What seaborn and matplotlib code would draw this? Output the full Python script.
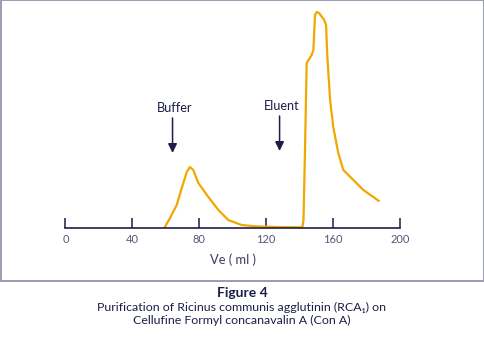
import matplotlib
matplotlib.use("Agg")
import matplotlib.pyplot as plt
from matplotlib.patches import Rectangle
import seaborn as sns
import pandas as pd

# Elution profile: elution volume (ml) vs. relative absorbance
ve_ml = [59.1, 62.5, 66.5, 69.5, 72.5, 74.4, 76.4, 79.4, 85.4, 91.4, 97.3,
         105.3, 113.3, 119.3, 128.3, 141.6, 142.3, 143.2, 144.2, 147.2, 148.2,
         149.2, 150.2, 151.6, 154.7, 155.8, 156.5, 158.2, 160.1, 163.1, 166.1,
         172.1, 178.1, 187.4]
absorbance = [0.00, 0.10, 0.23, 0.40, 0.56, 0.61, 0.58, 0.45, 0.31, 0.18, 0.08,
              0.03, 0.017, 0.013, 0.009, 0.007, 0.08, 0.78, 1.65, 1.73, 1.78,
              2.13, 2.16, 2.15, 2.08, 2.03, 1.73, 1.28, 1.01, 0.75, 0.58,
              0.48, 0.38, 0.27]

x_ticks = [0, 40, 80, 120, 160, 200]
x_label = "Ve ( ml )"

# Buffer / eluent application points
arrow_labels = ["Buffer", "Eluent"]
arrow_ve = [64, 128]

caption_title = "Figure 4"
caption_lines = ["Purification of Ricinus communis agglutinin (RCA\u2081) on",
                 "Cellufine Formyl concanavalin A (Con A)"]

NAVY = "#1c1e48"
ORANGE = "#f0a800"
GREY = "#9b9bb3"

sns.set_theme(style="white")
plt.rcParams["font.family"] = ["Lato", "DejaVu Sans"]

W, H = 485, 339
fig = plt.figure(figsize=(W / 100, H / 100), dpi=100)
fig.patch.set_facecolor("white")

x0, x1 = 65.5, 400.0
base_y, top_y = 228.0, 8.0
ax = fig.add_axes([x0 / W, (H - base_y) / H, (x1 - x0) / W, (base_y - top_y) / H])
ax.set_facecolor("none")

df = pd.DataFrame({"ve": ve_ml, "abs": absorbance})
sns.lineplot(data=df, x="ve", y="abs", ax=ax, color=ORANGE, linewidth=1.6,
             sort=False, estimator=None)

ax.set_xlim(0, 200)
ax.set_ylim(0, (base_y - top_y) / 100)
for s in ["top", "left", "right"]:
    ax.spines[s].set_visible(False)
ax.spines["bottom"].set_color(NAVY)
ax.spines["bottom"].set_linewidth(1.2)
ax.set_yticks([])
ax.set_xticks(x_ticks)
ax.set_xticklabels([str(t) for t in x_ticks])
ax.tick_params(axis="x", direction="in", length=7.2, width=1.1, color=NAVY,
               bottom=True, pad=4.5, labelsize=8, labelcolor="#55577a")
ax.set_xlabel(x_label, fontsize=9.3, color="#3a3c60", labelpad=6)
ax.set_ylabel("")

# Arrows marking buffer and eluent application
arrow_tail = [1.10, 1.12]
arrow_tip = [0.75, 0.77]
text_y = [1.20, 1.22]
for lab, xv, yt, yh, ty in zip(arrow_labels, arrow_ve, arrow_tail, arrow_tip, text_y):
    ax.annotate("", xy=(xv, yh), xytext=(xv, yt),
                arrowprops=dict(arrowstyle="-|>,head_length=0.45,head_width=0.22",
                                color=NAVY, lw=1.1, shrinkA=0, shrinkB=0))
    ax.text(xv + 1, ty, lab, ha="center", va="center", fontsize=9.2, color=NAVY)

# Frame around the plot area
fig.add_artist(Rectangle((0.5 / W, (H - 280.5) / H), 484 / W, 280 / H,
                         transform=fig.transFigure, fill=False, ec=GREY, lw=1.4))

fig.text(242 / W, 1 - 293 / H, caption_title, ha="center", va="center",
         fontsize=10, fontweight="bold", color=NAVY)
fig.text(242 / W, 1 - 307 / H, caption_lines[0], ha="center", va="center",
         fontsize=8.9, color=NAVY)
fig.text(242 / W, 1 - 320 / H, caption_lines[1], ha="center", va="center",
         fontsize=8.9, color=NAVY)

fig.savefig("out.png", dpi=100, facecolor="white")
